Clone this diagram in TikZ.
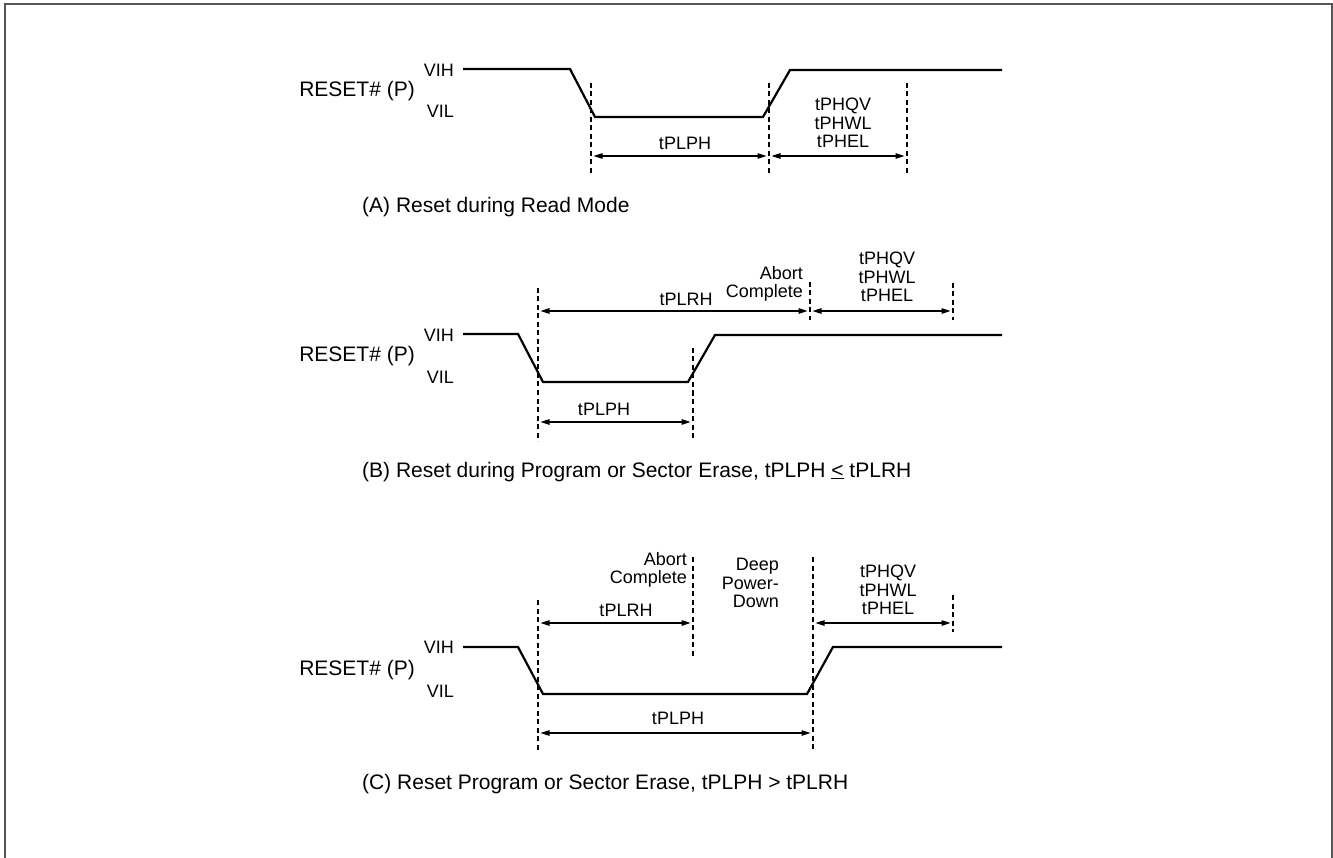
\documentclass[tikz,border=0pt]{standalone}
\usepackage{fontspec}
\setmainfont{Liberation Sans}
\usetikzlibrary{arrows.meta}
\definecolor{framegray}{HTML}{555555}
\begin{document}
\begin{tikzpicture}[x=1pt,y=-1pt,
  sig/.style={line width=2.2pt, line join=miter},
  guide/.style={line width=1.1pt, dash pattern=on 5pt off 3.5pt},
  dim/.style={{Triangle[length=9pt,width=5.5pt]}-{Triangle[length=9pt,width=5.5pt]}, line width=1.1pt, shorten <=2.5pt, shorten >=2.5pt},
  lbl/.style={font=\fontsize{18}{18.5}\selectfont, inner sep=0pt},
  big/.style={font=\fontsize{21}{21}\selectfont, inner sep=0pt}]
\useasboundingbox (0,0) rectangle (1333,858);
\draw[line width=1.6pt, framegray] (5,858) -- (5,4) -- (1332,4) -- (1332,858);

% ---------------- Panel A ----------------
\coordinate (A0) at (463,69);
\coordinate (A1) at (570,69);
\coordinate (A2) at (595,117);
\coordinate (A3) at (763,117);
\coordinate (A4) at (790,70);
\coordinate (A5) at (1002,70);
\draw[sig] (A0)--(A1)--(A2)--(A3)--(A4)--(A5);
\node[big, anchor=base east] (Areset) at (415,97) {RESET\# (P)};
\node[lbl, anchor=base east] (Avih) at (454,77) {VIH};
\node[lbl, anchor=base east] (Avil) at (454,118) {VIL};
\coordinate (Ad1t) at (591,83); \coordinate (Ad1b) at (591,173);
\coordinate (Ad2t) at (769,83); \coordinate (Ad2b) at (769,173);
\coordinate (Ad3t) at (907,83); \coordinate (Ad3b) at (907,173);
\draw[guide] (Ad1t)--(Ad1b);
\draw[guide] (Ad2t)--(Ad2b);
\draw[guide] (Ad3t)--(Ad3b);
\coordinate (Aa1) at (591,156);
\coordinate (Aa2) at (769,156);
\coordinate (Aa3) at (907,156);
\draw[dim] (Aa1)--(Aa2);
\draw[dim] (Aa2)--(Aa3);
\node[lbl, anchor=base] (Atplph) at (685,150) {tPLPH};
\node[lbl, anchor=north, align=center] (Atph) at (843,98) {tPHQV\\tPHWL\\tPHEL};
\node[big, anchor=base west] (Acap) at (362,213) {(A) Reset during Read Mode};

% ---------------- Panel B ----------------
\coordinate (B0) at (463,334);
\coordinate (B1) at (518,334);
\coordinate (B2) at (543,382);
\coordinate (B3) at (688,382);
\coordinate (B4) at (715,335);
\coordinate (B5) at (1002,335);
\draw[sig] (B0)--(B1)--(B2)--(B3)--(B4)--(B5);
\node[big, anchor=base east] (Breset) at (415,362) {RESET\# (P)};
\node[lbl, anchor=base east] (Bvih) at (454,342) {VIH};
\node[lbl, anchor=base east] (Bvil) at (454,384) {VIL};
\coordinate (Bd1t) at (538,288); \coordinate (Bd1b) at (538,441);
\coordinate (Bd2t) at (693,348); \coordinate (Bd2b) at (693,441);
\coordinate (Bd3t) at (810,282); \coordinate (Bd3b) at (810,320);
\coordinate (Bd4t) at (953,283); \coordinate (Bd4b) at (953,320);
\draw[guide] (Bd1t)--(Bd1b);
\draw[guide] (Bd2t)--(Bd2b);
\draw[guide] (Bd3t)--(Bd3b);
\draw[guide] (Bd4t)--(Bd4b);
\coordinate (Ba1) at (538,311);
\coordinate (Ba3) at (810,311);
\coordinate (Ba4) at (953,311);
\coordinate (Bb1) at (538,422);
\coordinate (Bb2) at (693,422);
\draw[dim] (Ba1)--(Ba3);
\draw[dim] (Ba3)--(Ba4);
\draw[dim] (Bb1)--(Bb2);
\node[lbl, anchor=base] (Btplrh) at (686,306) {tPLRH};
\node[lbl, anchor=base] (Btplph) at (604,415) {tPLPH};
\node[lbl, anchor=north east, align=right] (Babort) at (803,266) {Abort\\Complete};
\node[lbl, anchor=north, align=center] (Btph) at (887,252) {tPHQV\\tPHWL\\tPHEL};
\node[big, anchor=base west] (Bcap) at (362,477) {(B) Reset during Program or Sector Erase, tPLPH \underline{<} tPLRH};

% ---------------- Panel C ----------------
\coordinate (C0) at (463,647);
\coordinate (C1) at (518,647);
\coordinate (C2) at (543,694);
\coordinate (C3) at (807,694);
\coordinate (C4) at (833,647);
\coordinate (C5) at (1002,647);
\draw[sig] (C0)--(C1)--(C2)--(C3)--(C4)--(C5);
\node[big, anchor=base east] (Creset) at (415,675) {RESET\# (P)};
\node[lbl, anchor=base east] (Cvih) at (454,653) {VIH};
\node[lbl, anchor=base east] (Cvil) at (454,697) {VIL};
\coordinate (Cd1t) at (538,600); \coordinate (Cd1b) at (538,752);
\coordinate (Cd2t) at (693,557); \coordinate (Cd2b) at (693,658);
\coordinate (Cd3t) at (813,557); \coordinate (Cd3b) at (813,752);
\coordinate (Cd4t) at (953,595); \coordinate (Cd4b) at (953,632);
\draw[guide] (Cd1t)--(Cd1b);
\draw[guide] (Cd2t)--(Cd2b);
\draw[guide] (Cd3t)--(Cd3b);
\draw[guide] (Cd4t)--(Cd4b);
\coordinate (Ca1) at (538,623);
\coordinate (Ca2) at (693,623);
\coordinate (Ca3) at (813,623);
\coordinate (Ca4) at (953,623);
\coordinate (Cb1) at (538,733);
\coordinate (Cb3) at (813,733);
\draw[dim] (Ca1)--(Ca2);
\draw[dim] (Ca3)--(Ca4);
\draw[dim] (Cb1)--(Cb3);
\node[lbl, anchor=base] (Ctplrh) at (626,616) {tPLRH};
\node[lbl, anchor=base] (Ctplph) at (678,724) {tPLPH};
\node[lbl, anchor=north east, align=right] (Cabort) at (687,552) {Abort\\Complete};
\node[lbl, anchor=north east, align=right] (Cdeep) at (779,558) {Deep\\Power-\\Down};
\node[lbl, anchor=north, align=center] (Ctph) at (888,565) {tPHQV\\tPHWL\\tPHEL};
\node[big, anchor=base west] (Ccap) at (362,789) {(C) Reset Program or Sector Erase, tPLPH > tPLRH};
\end{tikzpicture}
\end{document}
